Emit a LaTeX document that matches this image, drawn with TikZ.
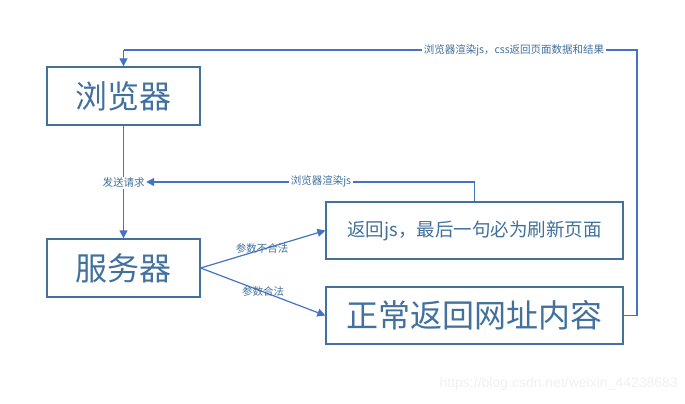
\documentclass[tikz,border=0pt]{standalone}
\usepackage{fontspec}
\setmainfont{Noto Sans CJK SC}
\newfontfamily\wmfont{Liberation Sans}
\usetikzlibrary{arrows.meta}
\definecolor{boxc}{HTML}{41719C}
\definecolor{linec}{HTML}{4472C4}
\definecolor{txtc}{HTML}{41719C}
\begin{document}
\begin{tikzpicture}[x=1pt,y=-1pt,
  box/.style={draw=boxc,line width=1.3pt,fill=white,inner sep=0pt,text=txtc},
  conn/.style={draw=linec,line width=1.2pt,-{Triangle[length=8pt,width=8pt]}},
  plain/.style={draw=linec,line width=1.2pt},
  lbl/.style={fill=white,text=txtc,font=\fontsize{10.5}{12}\selectfont,inner sep=1.5pt}]
\useasboundingbox (0,0) rectangle (685,404);
\node[box,minimum width=153pt,minimum height=58pt,font=\fontsize{32}{36}\selectfont] (llq) at (123.5,96) {浏览器};
\node[box,minimum width=153pt,minimum height=58pt,font=\fontsize{32}{36}\selectfont] (fwq) at (123.5,268) {服务器};
\node[box,minimum width=297pt,minimum height=57pt,font=\fontsize{18.5}{22}\selectfont] (js) at (474.5,230.5) {返回js，最后一句必为刷新页面};
\node[box,minimum width=297pt,minimum height=57pt,font=\fontsize{32}{36}\selectfont] (zc) at (474.5,315.5) {正常返回网址内容};
% top return loop
\coordinate (c1) at (637,315.5);
\coordinate (c2) at (637,50);
\coordinate (c3) at (123.5,50);
\draw[plain] (zc.east) -- (c1) -- (c2) -- (c3);
\draw[conn] (c3) -- (llq.north);
\node[lbl] (toplbl) at (514,50) {浏览器渲染js，css返回页面数据和结果};
% request
\draw[conn] (llq.south) -- (fwq.north);
\node[lbl] (fs) at (123.5,183) {发送请求};
% js back
\coordinate (j1) at (474.5,182);
\draw[plain] (js.north) -- (j1);
\draw[conn] (j1) -- (fs.east |- j1);
\node[lbl] (jslbl) at (321,181) {浏览器渲染js};
% branches
\draw[conn] (fwq.east) -- (js.west);
\draw[conn] (fwq.east) -- (zc.west);
\node[lbl,fill=none] (bhf) at (262,248) {参数不合法};
\node[lbl,fill=none] (hf) at (263,291) {参数合法};
% watermark
\node[text=black!6,font=\wmfont\fontsize{14}{16}\selectfont,anchor=east,inner sep=0pt] (wm) at (678,384) {https://blog.csdn.net/weixin\_44238683};
\end{tikzpicture}
\end{document}
